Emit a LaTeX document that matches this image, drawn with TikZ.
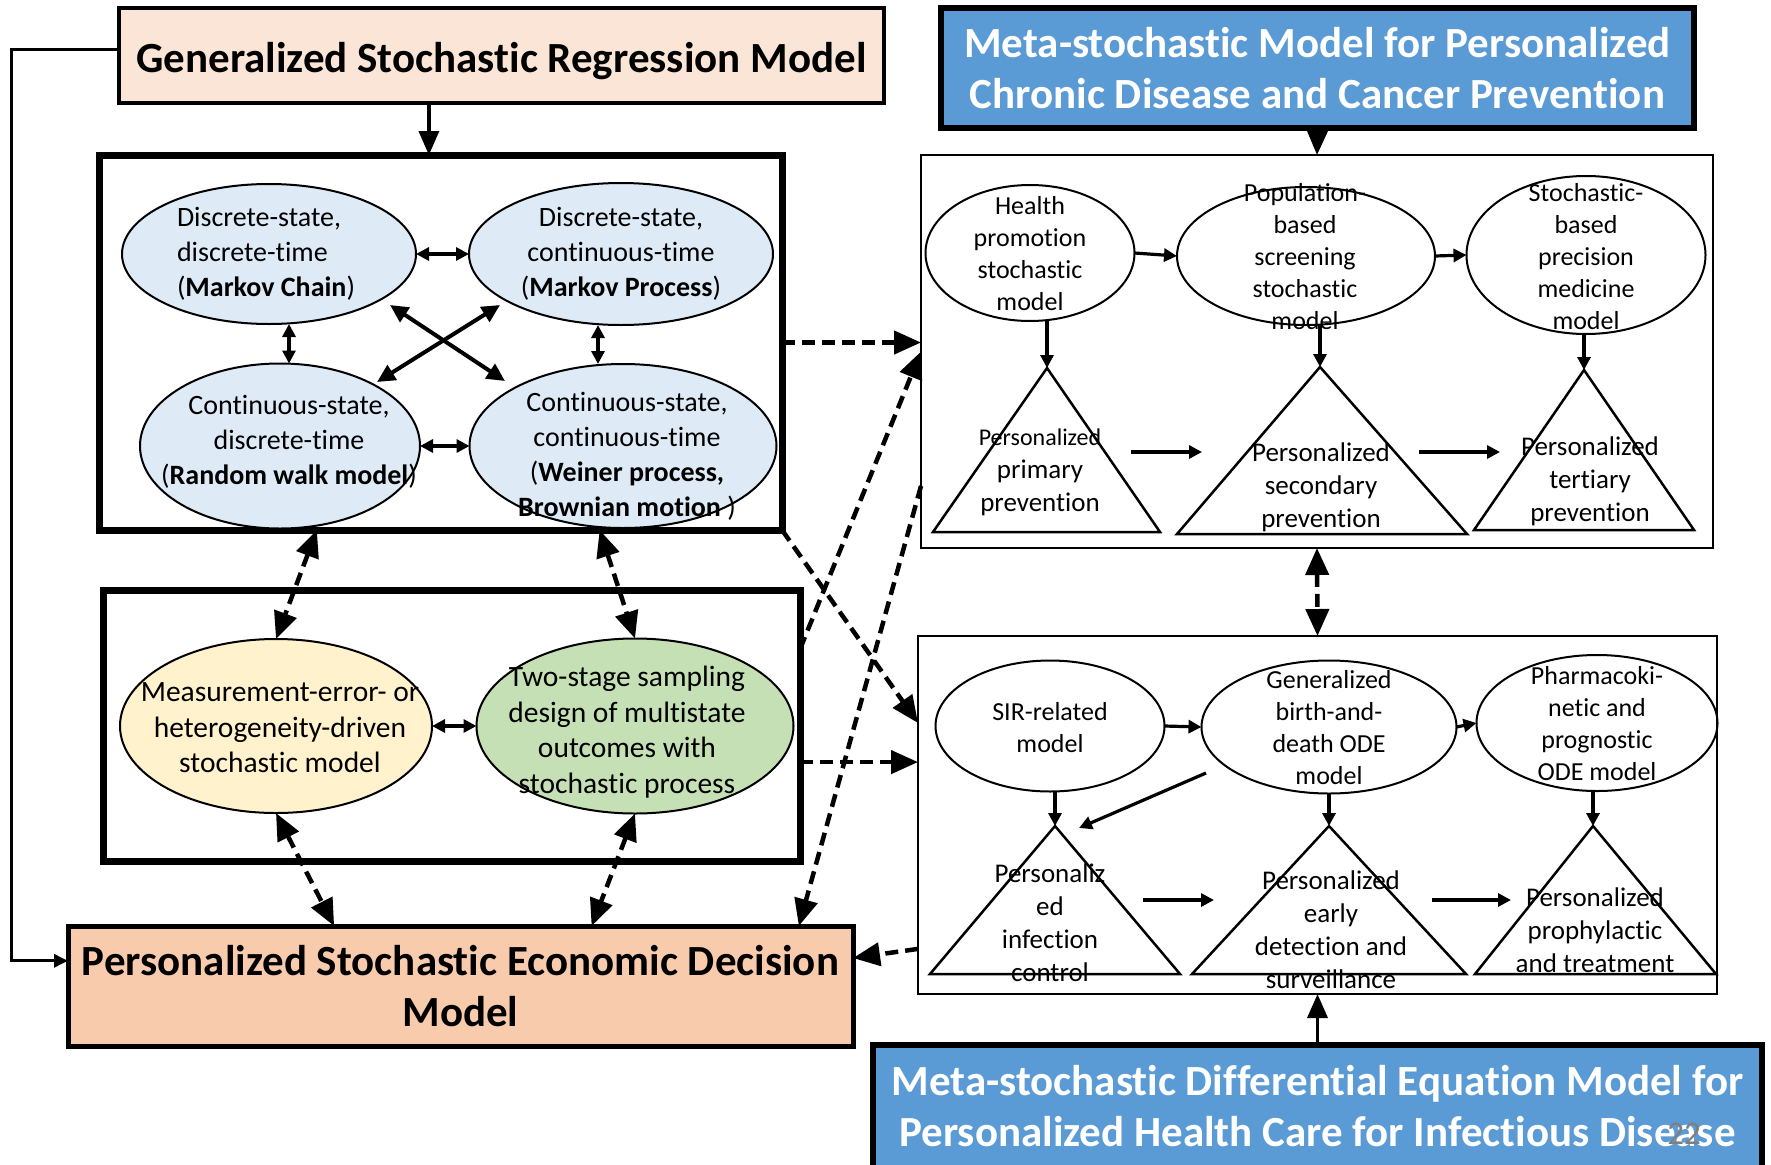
\documentclass[tikz,border=0pt]{standalone}
\usepackage{fontspec}
\setmainfont{Carlito}[Ligatures=NoCommon]
\usetikzlibrary{arrows.meta,shapes.geometric,calc}

\definecolor{peachlight}{HTML}{FBE5D6}
\definecolor{peach}{HTML}{F8CBAD}
\definecolor{ellblue}{HTML}{DEEBF7}
\definecolor{ellyellow}{HTML}{FFF2CC}
\definecolor{ellgreen}{HTML}{C5E0B4}
\definecolor{titleblue}{HTML}{5B9BD5}
\definecolor{pagenum}{HTML}{7F7F7F}

\begin{document}
\begin{tikzpicture}[x=1pt,y=-1pt,
  every node/.style={inner sep=0pt, outer sep=0pt},
  titlefont/.style={font={\fontsize{43}{51}\selectfont\bfseries}},
  titlebox/.style={draw, line width=4.5pt, align=center, titlefont},
  bluebox/.style={titlebox, fill=titleblue, line width=6pt, text=white},
  groupbox/.style={draw, line width=7pt},
  panel/.style={draw, line width=2.5pt},
  ell/.style={draw, ellipse, line width=2pt},
  txtL/.style={align=center, font={\fontsize{28}{35}\selectfont}},
  txtY/.style={align=center, font={\fontsize{29.5}{35.5}\selectfont}},
  txtR/.style={align=center, font={\fontsize{26}{32}\selectfont}},
  txtT/.style={align=center, font={\fontsize{27}{33}\selectfont}},
  tri/.style={draw, line width=2.5pt, line join=miter},
  sarrow/.style={line width=3.2pt, -{Triangle[length=13pt,width=13pt]}},
  sdarrow/.style={line width=3.2pt, {Triangle[length=13pt,width=13pt]}-{Triangle[length=13pt,width=13pt]}},
  xarrow/.style={line width=4pt, {Triangle[length=18pt,width=17pt]}-{Triangle[length=18pt,width=17pt]}},
  bigarrow/.style={line width=3.5pt, -{Triangle[length=24pt,width=20pt]}},
  darrow/.style={line width=4.5pt, dash pattern=on 13pt off 7pt, -{Triangle[length=27pt,width=23pt]}},
  ddarrow/.style={line width=4.5pt, dash pattern=on 13pt off 7pt,
    {Triangle[length=27pt,width=23pt]}-{Triangle[length=27pt,width=23pt]}},
]
\useasboundingbox (0,0) rectangle (1771,1164);

% ---------- left column ----------
\node[draw, line width=4.5pt, fill=peachlight, minimum width=765, minimum height=95] (gsrm) at (501.5,55.5) {};
\node[titlefont] (gsrm-t) at (501.5,61) {Generalized Stochastic Regression Model};

\node[groupbox, minimum width=683, minimum height=375] (blk) at (440.5,342.5) {};
\node[ell, fill=ellblue, minimum width=294, minimum height=140] (dsdt) at (269,254) {};
\node[ell, fill=ellblue, minimum width=304, minimum height=142] (dsct) at (621,254) {};
\node[ell, fill=ellblue, minimum width=280, minimum height=165] (csdt) at (280,446) {};
\node[ell, fill=ellblue, minimum width=307, minimum height=164] (csct) at (623,446) {};
\node[txtL, align=left] (dsdt-t) at (266,254) {Discrete-state,\\ discrete-time\\ (\textbf{Markov Chain})};
\node[txtL] (dsct-t) at (621,254) {Discrete-state,\\ continuous-time\\ (\textbf{Markov Process})};
\node[txtL] (csdt-t) at (289,442) {Continuous-state,\\ discrete-time\\ (\textbf{Random walk model})};
\node[txtL] (csct-t) at (627,456) {Continuous-state,\\ continuous-time\\ (\textbf{Weiner process,}\\ \textbf{Brownian motion} )};

\node[groupbox, minimum width=697, minimum height=271] (mid) at (451.5,725.5) {};
\node[ell, fill=ellyellow, minimum width=312, minimum height=174] (yel) at (276,726) {};
\node[ell, fill=ellgreen, minimum width=317, minimum height=175] (grn) at (635,726) {};
\node[txtY] (yel-t) at (280,728) {Measurement-error- or\\ heterogeneity-driven\\ stochastic model};
\node[txtY] (grn-t) at (627,732) {Two-stage sampling\\ design of multistate\\ outcomes with\\ stochastic process};

\node[titlebox, fill=peach, line width=5pt, minimum width=785, minimum height=120] (psedm) at (460.5,986)
  {Personalized Stochastic Economic Decision\\ Model};

% ---------- right column: chronic disease ----------
\node[bluebox, minimum width=753, minimum height=120] (bluetop) at (1317.5,68)
  {Meta-stochastic Model for Personalized\\ Chronic Disease and Cancer Prevention};
\node[panel, minimum width=792, minimum height=393] (rtbox) at (1317,351.5) {};

\node[ell, minimum width=209, minimum height=136] (hp) at (1030,253) {};
\node[ell, minimum width=258, minimum height=138] (pop) at (1306,256) {};
\node[ell, minimum width=239, minimum height=158] (stc) at (1586,255) {};
\node[txtR] (hp-t) at (1030,254) {Health\\ promotion\\ stochastic\\ model};
\node[txtR] (pop-t) at (1305,257) {Population-\\ based\\ screening\\ stochastic\\ model};
\node[txtR] (stc-t) at (1586,257) {Stochastic-\\ based\\ precision\\ medicine\\ model};

\coordinate (t1a) at (1047,368);
\coordinate (t2a) at (1320,367);
\coordinate (t3a) at (1584,370);
\draw[tri] (t1a) -- (933,532) -- (1160,532) -- cycle;
\draw[tri] (t2a) -- (1177,534) -- (1467,534) -- cycle;
\draw[tri] (t3a) -- (1474,530) -- (1694,530) -- cycle;
\node[txtT] (t1-t) at (1040,472) {{\fontsize{24}{33}\selectfont Personalized}\\ primary\\ prevention};
\node[txtT] (t2-t) at (1321,487) {Personalized\\ secondary\\ prevention};
\node[txtT] (t3-t) at (1590,481) {Personalized\\ tertiary\\ prevention};

% ---------- right column: infectious disease ----------
\node[panel, minimum width=799, minimum height=358] (rbbox) at (1317.5,815) {};
\node[ell, minimum width=229, minimum height=131] (sir) at (1050,726) {};
\node[ell, minimum width=255, minimum height=133] (bd) at (1329,727) {};
\node[ell, minimum width=241, minimum height=136] (pk) at (1597,723) {};
\node[txtR] (sir-t) at (1050,728) {SIR-related\\ model};
\node[txtR] (bd-t) at (1329,728) {Generalized\\ birth-and-\\ death ODE\\ model};
\node[txtR] (pk-t) at (1597,724) {Pharmacoki-\\ netic and\\ prognostic\\ ODE model};

\coordinate (b1a) at (1055,826);
\coordinate (b2a) at (1329,826);
\coordinate (b3a) at (1593,826);
\draw[tri] (b1a) -- (930,974) -- (1180,974) -- cycle;
\draw[tri] (b2a) -- (1192,974) -- (1466,974) -- cycle;
\draw[tri] (b3a) -- (1475,974) -- (1716,974) -- cycle;
\node[txtT] (b1-t) at (1050,923) {Personaliz\\ ed\\ infection\\ control};
\node[txtT] (b2-t) at (1331,930) {Personalized\\ early\\ detection and\\ surveillance};
\node[txtT] (b3-t) at (1595,930) {Personalized\\ prophylactic\\ and treatment};

\node[bluebox, minimum width=889, minimum height=123] (bluebot) at (1317.5,1106.5)
  {Meta-stochastic Differential Equation Model for\\ Personalized Health Care for Infectious Disease};
\node[font={\fontsize{33}{36}\selectfont}, text=pagenum] (pgno) at (1684,1134) {22};

% ---------- connectors inside the stochastic-process block ----------
\draw[sdarrow] (dsdt.east) -- (dsct.west);
\draw[sdarrow] (csdt.east) -- (csct.west);
\draw[sdarrow] ([xshift=20pt]dsdt.south) coordinate (v1) -- (v1 |- csdt.north);
\draw[sdarrow] ([xshift=-23pt]dsct.south) coordinate (v2) -- (v2 |- csct.north);
\draw[xarrow] ([shift={(121,51)}]dsdt.center) -- ([shift={(-118,-65)}]csct.center);
\draw[xarrow] ([shift={(-121,51)}]dsct.center) -- ([shift={(97,-64)}]csdt.center);
\draw[sdarrow] (yel.east) -- (grn.west);

% ---------- connectors of the chronic disease panel ----------
\draw[sarrow] (hp.east) -- (pop.west);
\draw[sarrow] (pop.east) -- (stc.west);
\draw[sarrow] (t1a |- hp.south) -- (t1a);
\draw[sarrow] (t2a |- pop.south) -- (t2a);
\draw[sarrow] (t3a |- stc.south) -- (t3a);
\draw[sarrow] ([shift={(84,84)}]t1a) -- ([shift={(-118,85)}]t2a);
\draw[sarrow] ([shift={(99,85)}]t2a) -- ([shift={(-84,82)}]t3a);

% ---------- connectors of the infectious disease panel ----------
\draw[sarrow] (sir.east) -- (bd.west);
\draw[sarrow] (bd.east) -- (pk.west);
\draw[sarrow] (b1a |- sir.south) -- (b1a);
\draw[sarrow] (b2a |- bd.south) -- (b2a);
\draw[sarrow] (b3a |- pk.south) -- (b3a);
\draw[sarrow] ([shift={(-123,46)}]bd.center) -- ([shift={(24,2)}]b1a);
\draw[sarrow] ([shift={(88,74)}]b1a) -- ([shift={(-115,74)}]b2a);
\draw[sarrow] ([shift={(103,74)}]b2a) -- ([shift={(-82,74)}]b3a);

% ---------- links between the blocks ----------
\coordinate (gin) at ($(blk.north west)!0.483!(blk.north east)$);
\draw[bigarrow] (gin |- gsrm.south) -- (gin);
\draw[line width=3pt, -{Triangle[length=14pt,width=13pt]}]
  ([yshift=6pt]gsrm.west) -- ([xshift=-108pt,yshift=6pt]gsrm.west) |- ($(psedm.north west)!0.29!(psedm.south west)$);
\draw[bigarrow] (bluetop.south) -- (rtbox.north);
\draw[bigarrow] (bluebot.north) -- (rbbox.south);
\draw[ddarrow] (rtbox.south) -- (rbbox.north);

\draw[ddarrow] ($(blk.south west)!0.319!(blk.south east)$) -- (yel.north);
\draw[ddarrow] ($(blk.south west)!0.733!(blk.south east)$) -- (grn.north);
\draw[ddarrow] (yel.south) -- ($(psedm.north west)!0.339!(psedm.north east)$);
\draw[ddarrow] (grn.south) -- ($(psedm.north west)!0.667!(psedm.north east)$);

\draw[darrow] (blk.east) -- (blk.east -| rtbox.west);
\draw[darrow] (blk.south east) -- ($(rbbox.north west)!0.243!(rbbox.south west)$);
\draw[darrow] ($(mid.north east)!0.635!(mid.south east)$) coordinate (c1) -- (c1 -| rbbox.west);
\draw[darrow] ($(mid.north east)!0.218!(mid.south east)$) -- (rtbox.west);
\draw[darrow] ($(rtbox.north west)!0.842!(rtbox.south west)$) -- ($(psedm.north west)!0.931!(psedm.north east)$);
\draw[darrow] ($(rbbox.north west)!0.874!(rbbox.south west)$) -- ($(psedm.north east)!0.267!(psedm.south east)$);
\end{tikzpicture}
\end{document}
